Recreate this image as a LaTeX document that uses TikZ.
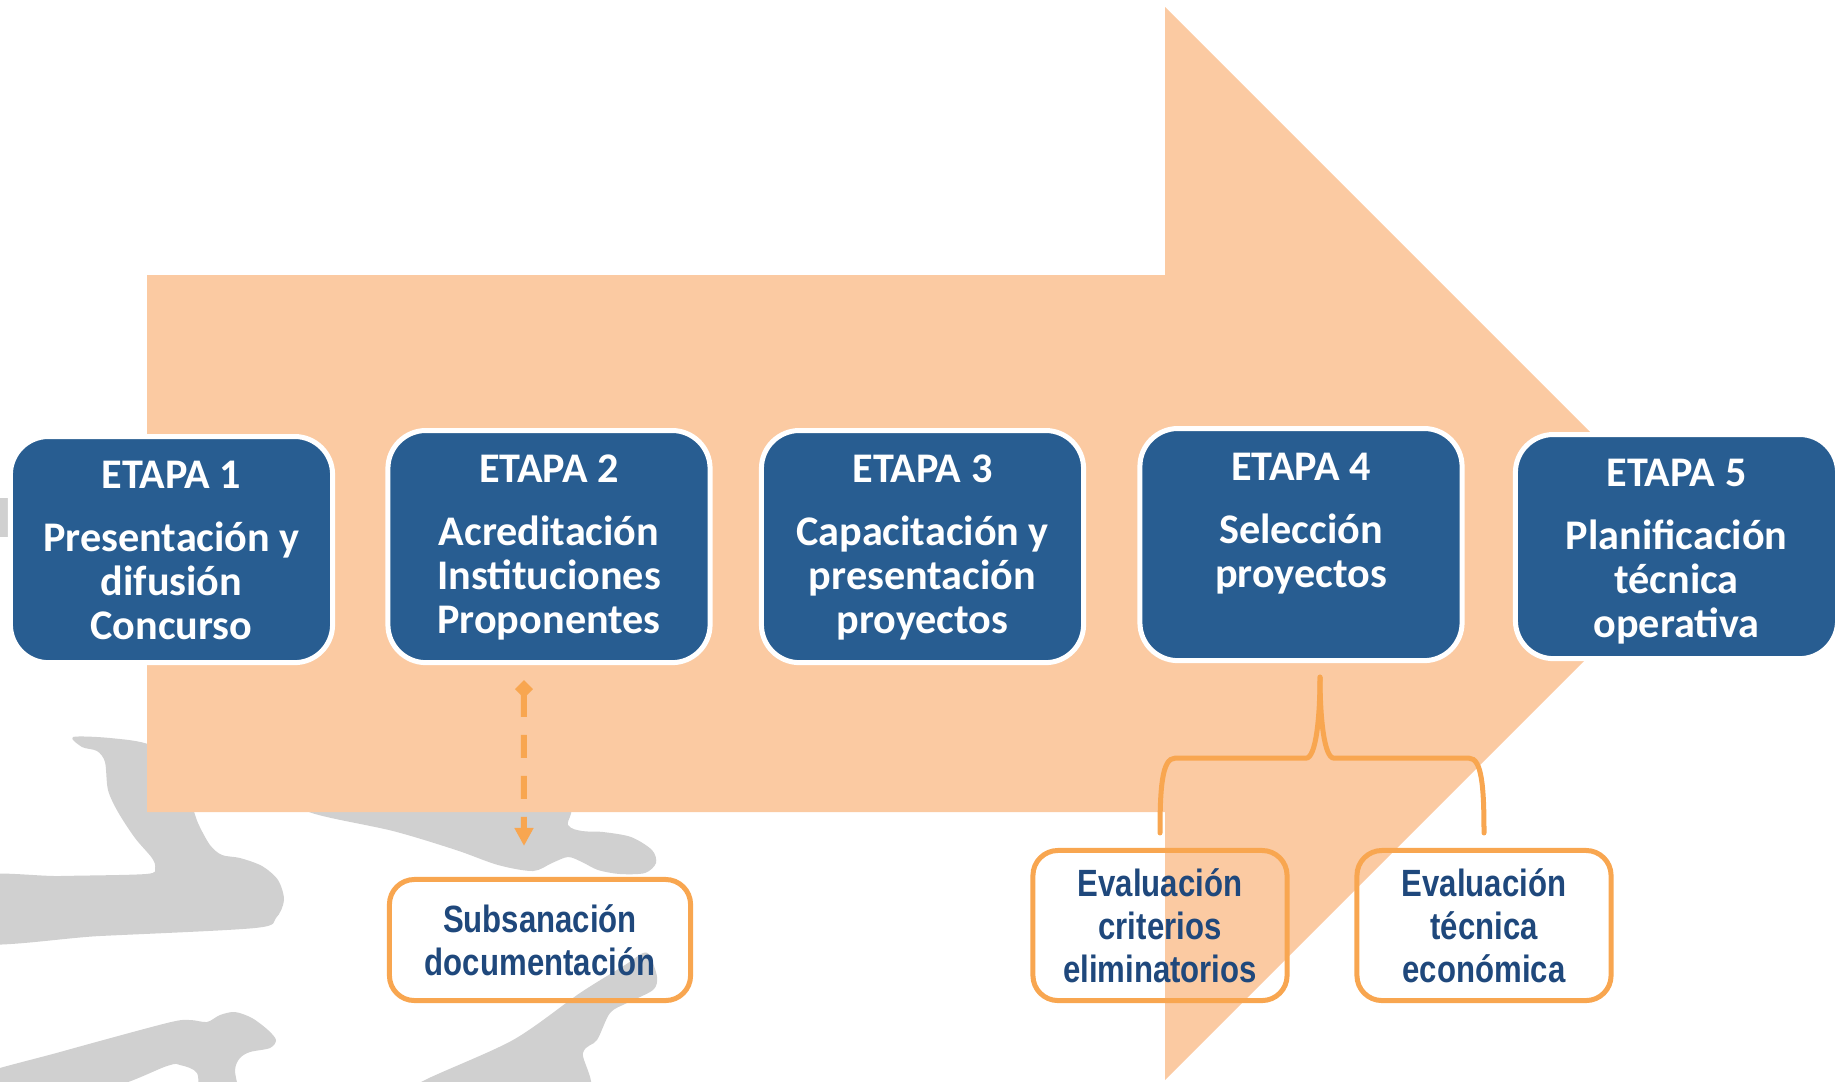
\documentclass[tikz,border=0pt]{standalone}
\usepackage{fontspec}
\setmainfont{Carlito}
\newfontfamily\narrowfont[FakeStretch=0.82]{Liberation Sans}
\usepackage{xcolor}
\usepackage{tikz}
\usetikzlibrary{arrows.meta}
\usetikzlibrary{calc}

\definecolor{peach}{HTML}{FBCAA2}
\definecolor{etapablue}{HTML}{285D91}
\definecolor{orangeline}{HTML}{F8A650}
\definecolor{subtext}{HTML}{1F487C}
\definecolor{ghost}{HTML}{D0D0D0}

\begin{document}
\begin{tikzpicture}
  [
    x=0.01cm, y=-0.01cm,
    etapa/.style={
       anchor=north,
       fill=etapablue,
       draw=white,
       line width=0.05cm,
       rounded corners=0.38cm,
       text=white,
       text width=3.22cm,
       text height=0.52cm,
       text depth=1.8cm,
       inner sep=0pt,
       align=flush center,
       font=\fontsize{12}{12.5}\selectfont\bfseries
    },
    subpaso/.style={
       draw=orangeline,
       line width=0.05cm,
       rounded corners=0.25cm,
       text=subtext,
       inner sep=0pt,
       align=center,
       font=\narrowfont\fontsize{10.8}{12.3}\selectfont\bfseries
    },
    ida/.style={
       draw=orangeline,
       line width=0.06cm,
       dash pattern=on 0.23cm off 0.18cm,
       {Diamond[length=0.18cm,width=0.18cm]}-{Triangle[length=0.18cm,width=0.18cm]}
    },
    llave/.style={
       draw=orangeline,
       line width=0.05cm,
       line cap=round
    }
  ]
  \useasboundingbox (0,0) rectangle (1845,1081);
  \clip (0,0) rectangle (1845,1081);

  % gray figures in the background
  \fill [ghost] plot [smooth cycle, tension=0.5] coordinates {
    (73,737) (82,747) (97,751) (105,762) (108,790) (118,812) (135,838)
    (152,858) (155,868) (146,874) (60,876) (-30,878) (-30,942) (100,936)
    (255,928) (276,918) (284,900) (278,880) (262,866) (240,858) (222,855)
    (210,845) (198,823) (190,800) (175,770) (150,745) (110,738)};
  \fill [ghost] plot [smooth cycle, tension=0.5] coordinates {
    (290,790) (309,812) (393,831) (456,850) (498,865) (533,871) (552,863)
    (568,857) (582,862) (598,870) (620,874) (645,873) (656,863) (652,850)
    (631,837) (603,832) (582,831) (568,825) (562,800) (430,780)};
  \fill [ghost] plot [smooth cycle, tension=0.5] coordinates {
    (-30,1078) (60,1052) (167,1023) (190,1020) (207,1022) (220,1015)
    (235,1012) (252,1018) (268,1030) (276,1040) (270,1048) (250,1052)
    (240,1058) (235,1070) (237,1100) (202,1100) (197,1073) (180,1065)
    (167,1066) (100,1090) (-30,1100)};
  \fill [ghost] plot [smooth cycle, tension=0.5] coordinates {
    (400,1100) (423,1081) (513,1040) (580,993) (625,965) (643,953)
    (650,956) (657,977) (653,990) (627,1003) (610,1013) (597,1040)
    (583,1053) (580,1100)};
  \fill [ghost] (-10,498) rectangle (40,537);

  % big arrow
  \fill [peach] (147,275) -- (1165,275) -- (1165,7) -- (1701.5,543.5)
    -- (1165,1080) -- (1165,812) -- (147,812) -- cycle;

  \node (e1) at ( 171.5,434) [etapa, text depth=1.74cm]
    {ETAPA 1\\[5.4pt]Presentación y\\difusión\\Concurso};
  \node (e2) at ( 549.0,428) [etapa]
    {ETAPA 2\\[5.4pt]Acreditación\\Instituciones\\Proponentes};
  \node (e3) at ( 922.5,428) [etapa]
    {ETAPA 3\\[5.4pt]Capacitación y\\presentación\\proyectos};
  \node (e4) at (1301.0,426) [etapa]
    {ETAPA 4\\[5.4pt]Selección\\proyectos};
  \node (e5) at (1676.5,432) [etapa, text depth=1.72cm]
    {ETAPA 5\\[5.4pt]Planificación\\técnica\\operativa};

  \node (subsan) at ( 540,940.0) [subpaso, minimum width=3.01cm, minimum height=1.21cm]
    {Subsanación\\documentación};
  \node (evcrit) at (1160,925.5) [subpaso, minimum width=2.54cm, minimum height=1.5cm]
    {Evaluación\\criterios\\eliminatorios};
  \node (evtec)  at (1484,925.5) [subpaso, minimum width=2.54cm, minimum height=1.5cm]
    {Evaluación\\técnica\\económica};

  \draw [ida] ([xshift=-0.25cm, yshift=-0.15cm]e2.south)
    -- ([xshift=-0.16cm, yshift=0.31cm]subsan.north);

  \coordinate (btop) at ($(e4.south)+(19,14)$);
  \coordinate (barm) at ($(btop)+(0,81)$);
  \coordinate (bizq) at ($(evcrit.north)+(0,-15)$);
  \coordinate (bder) at ($(evtec.north)+(0,-15)$);
  \draw [llave] (bizq) .. controls ($(bizq)+(0,-45)$) and ($(bizq |- barm)+(2,0)$)
    .. ($(bizq |- barm)+(15,0)$) -- ($(barm)+(-14,0)$)
    .. controls ($(barm)+(-4,0)$) and ($(btop)+(0,40)$) .. (btop);
  \draw [llave] (bder) .. controls ($(bder)+(0,-45)$) and ($(bder |- barm)+(-2,0)$)
    .. ($(bder |- barm)+(-15,0)$) -- ($(barm)+(14,0)$)
    .. controls ($(barm)+(4,0)$) and ($(btop)+(0,40)$) .. (btop);
\end{tikzpicture}
\end{document}
